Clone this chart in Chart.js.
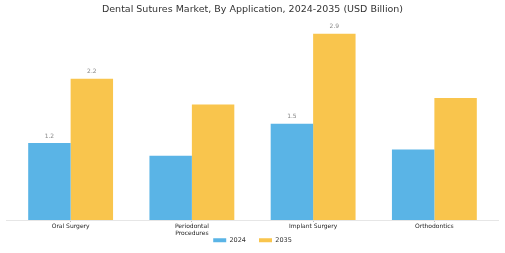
<!DOCTYPE html>
<html>
<head>
<meta charset="utf-8">
<script src="https://cdn.jsdelivr.net/npm/chart.js@4.4.1/dist/chart.umd.min.js"></script>
<style>
  html, body { margin: 0; padding: 0; background: #fff; }
  #wrap { width: 505px; height: 253px; }
</style>
</head>
<body>
<div id="wrap"><canvas id="bar-chart"></canvas></div>
<script>
const categories = [['Oral Surgery'], ['Periodontal', 'Procedures'], ['Implant Surgery'], ['Orthodontics']];
const values2024 = [1.2, 1.0, 1.5, 1.1];
const values2035 = [2.2, 1.8, 2.9, 1.9];
// only some bars carry a value label in the original
const labeled2024 = [true, false, true, false];
const labeled2035 = [true, false, true, false];

const valueLabels = {
  id: 'valueLabels',
  afterLayout(chart) {
    // let the two-line tick label run past the thin x axis box
    chart.scales.x.bottom = chart.height;
  },
  beforeDatasetsDraw(chart) {
    // baseline runs a little wider than the plot area
    const ctx = chart.ctx;
    const y = chart.scales.y.getPixelForValue(0) + 0.5;
    ctx.save();
    ctx.strokeStyle = '#e6e6e6';
    ctx.lineWidth = 1;
    ctx.beginPath();
    ctx.moveTo(chart.chartArea.left - 4, y);
    ctx.lineTo(chart.chartArea.right + 4, y);
    ctx.stroke();
    ctx.restore();
  },
  afterDatasetsDraw(chart) {
    const ctx = chart.ctx;
    const flags = [labeled2024, labeled2035];
    ctx.save();
    ctx.font = '6px "DejaVu Sans"';
    ctx.fillStyle = '#888';
    ctx.textAlign = 'center';
    ctx.textBaseline = 'middle';
    chart.data.datasets.forEach((ds, i) => {
      chart.getDatasetMeta(i).data.forEach((bar, j) => {
        if (!flags[i][j]) return;
        ctx.fillText(ds.data[j], bar.x, bar.y - 7);
      });
    });
    ctx.restore();
  }
};

new Chart(document.getElementById('bar-chart'), {
  type: 'bar',
  data: {
    labels: categories,
    datasets: [{
      label: '2024',
      data: values2024,
      backgroundColor: '#5ab4e6'
    }, {
      label: '2035',
      data: values2035,
      backgroundColor: '#f9c54d'
    }]
  },
  options: {
    responsive: true,
    maintainAspectRatio: false,
    animation: false,
    layout: { padding: { left: 10, right: 10, top: 0, bottom: 0 } },
    datasets: { bar: { categoryPercentage: 0.7, barPercentage: 1.0 } },
    plugins: {
      title: {
        display: true,
        text: 'Dental Sutures Market, By Application, 2024-2035 (USD Billion)',
        color: '#333',
        font: { family: 'DejaVu Sans', size: 9.5, weight: 'normal' },
        padding: { top: 4, bottom: 12 }
      },
      legend: {
        position: 'bottom',
        maxHeight: 29,
        labels: {
          boxWidth: 13,
          boxHeight: 4,
          color: '#333',
          font: { family: 'DejaVu Sans', size: 6.5 },
          padding: 13
        }
      },
      tooltip: { enabled: false }
    },
    scales: {
      x: {
        grid: { display: true, offset: false, drawOnChartArea: false, tickLength: 2, color: '#bbb' },
        border: { display: false },
        ticks: {
          color: '#222',
          font: { family: 'DejaVu Sans', size: 6 },
          padding: 1,
          maxRotation: 0
        },
        afterFit(scale) { scale.height = 4; }
      },
      y: {
        display: false,
        min: 0,
        max: 3
      }
    }
  },
  plugins: [valueLabels]
});
</script>
</body>
</html>
